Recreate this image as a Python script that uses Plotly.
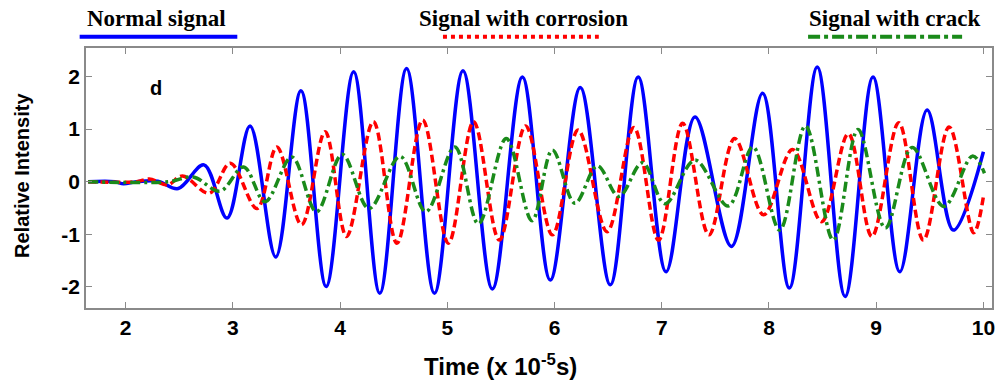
import plotly.graph_objects as go

# Normal signal (blue) - extremes
t_normal = [1.65, 1.90, 1.98, 2.10, 2.30, 2.49, 2.73, 2.945, 3.16, 3.40, 3.635, 3.87, 4.126, 4.37,
            4.62, 4.88, 5.146, 5.42, 5.70, 5.96, 6.24, 6.52, 6.78, 7.04, 7.31, 7.65, 7.94, 8.19,
            8.45, 8.71, 8.97, 9.22, 9.475, 9.72, 10.0]
y_normal = [0, 0, -0.04, 0, 0.01, -0.13, 0.32, -0.69, 1.06, -1.43, 1.73, -1.99, 2.09, -2.12,
            2.15, -2.12, 2.11, -2.04, 1.99, -1.87, 1.79, -1.96, 1.99, -1.71, 1.23, -1.23, 1.68, -2.02,
            2.18, -2.18, 1.99, -1.71, 1.36, -0.92, 0.57]

# Signal with corrosion (red dashed)
t_corr = [1.65, 2.10, 2.22, 2.39, 2.53, 2.78, 2.976, 3.225, 3.41, 3.64, 3.86, 4.06, 4.31, 4.53,
          4.77, 5.01, 5.245, 5.485, 5.73, 5.98, 6.22, 6.49, 6.74, 6.97, 7.195, 7.44, 7.68, 7.95,
          8.22, 8.49, 8.74, 8.96, 9.21, 9.44, 9.68, 9.91, 10.0]
y_corr = [0, 0, 0.05, -0.06, 0.11, -0.22, 0.35, -0.51, 0.66, -0.82, 0.95, -1.04, 1.14, -1.17,
          1.17, -1.17, 1.14, -1.11, 1.06, -1.01, 0.98, -0.95, 1.03, -1.11, 1.11, -1.01, 0.82, -0.63,
          0.61, -0.76, 0.91, -1.04, 1.12, -1.11, 1.04, -0.97, -0.28]

# Signal with crack (green dash-dot)
t_crack = [1.65, 2.40, 2.63, 2.88, 3.10, 3.30, 3.55, 3.78, 4.02, 4.27, 4.56, 4.80, 5.07, 5.29,
           5.55, 5.79, 5.98, 6.19, 6.40, 6.60, 6.82, 7.03, 7.31, 7.62, 7.85, 8.10, 8.34, 8.60,
           8.83, 9.085, 9.335, 9.63, 9.90, 10.01]
y_crack = [0, 0, 0.09, -0.18, 0.28, -0.38, 0.47, -0.57, 0.52, -0.51, 0.48, -0.57, 0.66, -0.80,
           0.82, -0.74, 0.60, -0.41, 0.30, -0.28, 0.36, -0.42, 0.41, -0.46, 0.66, -0.92, 1.06, -1.11,
           0.99, -0.88, 0.65, -0.47, 0.49, 0.16]

x_ticks = [2, 3, 4, 5, 6, 7, 8, 9, 10]
y_ticks = [-2, -1, 0, 1, 2]
series_names = ["Normal signal", "Signal with corrosion", "Signal with crack"]

BLUE, RED, GREEN = "#0000ff", "#ff0000", "#1a8a1a"
SANS = "Liberation Sans, Arial, sans-serif"
SERIF = "Liberation Serif, Times New Roman, serif"
GREY = "#8a8a8a"

fig = go.Figure()
fig.add_trace(go.Scatter(x=t_normal, y=y_normal, mode="lines", name=series_names[0],
                         line=dict(color=BLUE, width=3.5, shape="spline", smoothing=1.0)))
fig.add_trace(go.Scatter(x=t_corr, y=y_corr, mode="lines", name=series_names[1],
                         line=dict(color=RED, width=3.5, shape="spline", smoothing=1.0, dash="8px,4px")))
fig.add_trace(go.Scatter(x=t_crack, y=y_crack, mode="lines", name=series_names[2],
                         line=dict(color=GREEN, width=3.5, shape="spline", smoothing=1.0,
                                   dash="10px,4px,3px,4px")))

# Custom legend above the plot (text on top, line sample below)
legend_items = [
    (series_names[0], BLUE, "solid", 0.078, -0.007, 0.167),
    (series_names[1], RED, "dot", 0.483, 0.394, 0.566),
    (series_names[2], GREEN, "dashdot", 0.892, 0.797, 0.967),
]
annotations = []
shapes = []
for name, col, dsh, cx, x0, x1 in legend_items:
    annotations.append(dict(text=f"<b>{name}</b>", x=cx, y=1.112, xref="paper", yref="paper",
                            showarrow=False, xanchor="center", yanchor="middle",
                            font=dict(family=SERIF, size=23, color="black")))
    shapes.append(dict(type="line", xref="paper", yref="paper", x0=x0, x1=x1, y0=1.043, y1=1.043,
                       line=dict(color=col, width=4, dash=dsh)))

annotations.append(dict(text="<b>d</b>", x=2.28, y=1.78, xref="x", yref="y", showarrow=False,
                        font=dict(family=SANS, size=20, color="black")))
# axis titles placed as annotations for exact placement
annotations.append(dict(text="<b>Time (x 10<sup>-5</sup>s)</b>", x=0.458, y=-0.22, xref="paper",
                        yref="paper", showarrow=False, xanchor="center", yanchor="middle",
                        font=dict(family=SANS, size=24, color="black")))
annotations.append(dict(text="<b>Relative Intensity</b>", x=-0.07, y=0.51, xref="paper",
                        yref="paper", showarrow=False, xanchor="center", yanchor="middle",
                        textangle=-90, font=dict(family=SANS, size=20, color="black")))

fig.update_layout(
    width=999, height=383,
    margin=dict(l=86, r=7, t=48, b=75),
    paper_bgcolor="white", plot_bgcolor="white",
    showlegend=False,
    annotations=annotations, shapes=shapes,
    font=dict(family=SANS, color="black"),
)
fig.update_xaxes(range=[1.63, 10.08], tickvals=x_ticks, ticktext=[str(v) for v in x_ticks],
                 automargin=False,
                 showgrid=False, zeroline=False, showline=True, linecolor=GREY, linewidth=1.5,
                 mirror="ticks", ticks="inside", ticklen=6, tickcolor=GREY, tickwidth=1.2,
                 tickfont=dict(family=SANS, size=21, weight="bold", color="black"))
fig.update_yaxes(range=[-2.40, 2.54], tickvals=y_ticks, ticktext=[str(v) for v in y_ticks],
                 automargin=False,
                 showgrid=False, zeroline=False, showline=True, linecolor=GREY, linewidth=1.5,
                 mirror="ticks", ticks="inside", ticklen=6, tickcolor=GREY, tickwidth=1.2,
                 tickfont=dict(family=SANS, size=21, weight="bold", color="black"))

fig.write_html("out.html", config={"displayModeBar": False},
               post_script="document.body.style.margin='0';document.body.style.overflow='hidden';")
